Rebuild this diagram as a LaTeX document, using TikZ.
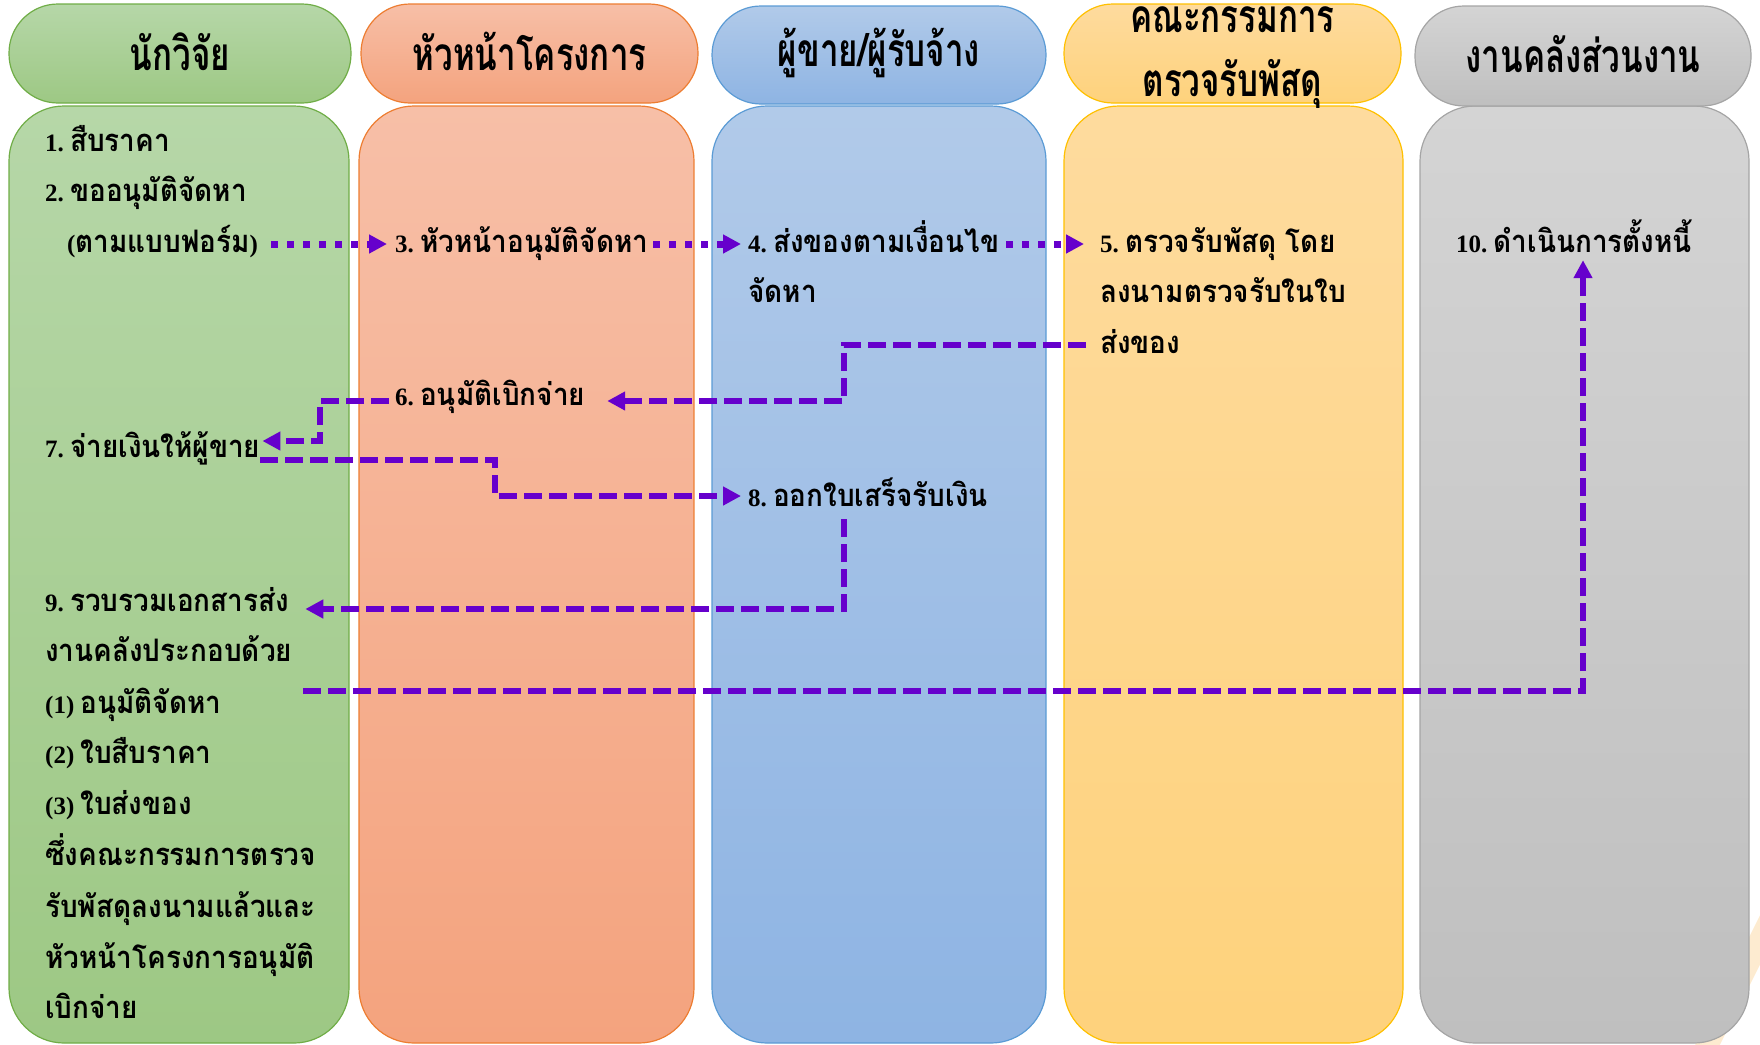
\documentclass[tikz,border=0pt]{standalone}
\usepackage{fontspec}
\newfontfamily\thaib[Script=Thai,FakeStretch=0.9]{Loma}
\newfontfamily\thaih[Script=Thai,FakeStretch=0.72]{Loma}
\newfontfamily\numf{Liberation Serif}
\usetikzlibrary{arrows.meta,calc}
\newcommand\nm[1]{{\numf\fontsize{25}{28}\selectfont #1}}
\newcommand\nms[1]{{\numf\fontsize{25}{28}\selectfont #1\ }}
\definecolor{gBd}{HTML}{70AD47}\definecolor{gT}{HTML}{B6D7A8}\definecolor{gB}{HTML}{9DC884}
\definecolor{oBd}{HTML}{ED7D31}\definecolor{oT}{HTML}{F7BFA7}\definecolor{oB}{HTML}{F4A37E}
\definecolor{bBd}{HTML}{5B9BD5}\definecolor{bT}{HTML}{B1CAE9}\definecolor{bB}{HTML}{8EB4E3}
\definecolor{yBd}{HTML}{FFC000}\definecolor{yT}{HTML}{FEDB9E}\definecolor{yB}{HTML}{FED27C}
\definecolor{kBd}{HTML}{A5A5A5}\definecolor{kT}{HTML}{D4D4D4}\definecolor{kB}{HTML}{BFBFBF}
\definecolor{arrowc}{HTML}{6600CC}
\definecolor{beigeC}{HTML}{FDEBD0}
\begin{document}
\begin{tikzpicture}[x=1pt,y=-1pt,
  lanebox/.style n args={3}{draw=#1, top color=#2, bottom color=#3, line width=1.2pt, rounded corners=55pt},
  hdrbox/.style n args={3}{draw=#1, top color=#2, bottom color=#3, line width=1.2pt, rounded corners=49pt, inner sep=0pt},
  hdrtxt/.style={inner sep=0pt, align=center, font=\thaih\bfseries\fontsize{46}{64}\selectfont},
  txt/.style={anchor=west, inner sep=0pt, text height=20pt, text depth=4pt, font=\thaib\bfseries\fontsize{31}{36}\selectfont},
  dasharrow/.style={draw=arrowc, line width=6pt, line join=miter, dash pattern=on 18pt off 7pt, -{Triangle[length=18pt,width=18pt]}},
  dotarrow/.style={draw=arrowc, line width=7pt, dash pattern=on 7pt off 9pt, -{Triangle[length=18pt,width=18pt]}}
]
\useasboundingbox (0,0) rectangle (1760,1044);
% faint background stripes, bottom right
\begin{scope}
\clip (0,0) rectangle (1760,1044);
\draw[line width=22pt, beigeC] (1790,880) -- (1700,1060);
\draw[line width=22pt, beigeC] (1815,960) -- (1745,1100);
\end{scope}
% lanes
\draw[lanebox={gBd}{gT}{gB}] (9,106) rectangle (349,1043);
\draw[lanebox={oBd}{oT}{oB}] (359,106) rectangle (694,1043);
\draw[lanebox={bBd}{bT}{bB}] (712,106) rectangle (1046,1043);
\draw[lanebox={yBd}{yT}{yB}] (1064,106) rectangle (1403,1043);
\draw[lanebox={kBd}{kT}{kB}] (1420,106) rectangle (1749,1043);
% headers
\node[hdrbox={gBd}{gT}{gB}, minimum width=342pt, minimum height=99pt] (h1) at (180,53.5) {};
\node[hdrbox={oBd}{oT}{oB}, minimum width=337pt, minimum height=99pt] (h2) at (529.5,53.5) {};
\node[hdrbox={bBd}{bT}{bB}, minimum width=334pt, minimum height=98pt] (h3) at (879,55) {};
\node[hdrbox={yBd}{yT}{yB}, minimum width=337pt, minimum height=99pt] (h4) at (1232.5,53.5) {};
\node[hdrbox={kBd}{kT}{kB}, minimum width=336pt, minimum height=100pt] (h5) at (1583,56) {};
\node[hdrtxt] (h1t) at ([yshift=2pt]h1.center) {นักวิจัย};
\node[hdrtxt] (h2t) at ([yshift=2pt]h2.center) {หัวหน้าโครงการ};
\node[hdrtxt] (h3t) at ([yshift=2pt]h3.center) {ผู้ขาย/ผู้รับจ้าง};
\node[hdrtxt] (h4t) at (1232.5,58) {คณะกรรมการ\\ตรวจรับพัสดุ};
\node[hdrtxt] (h5t) at ([yshift=2pt]h5.center) {งานคลังส่วนงาน};
% texts
\node[txt] (s1) at (45,143) {\nms{1.}สืบราคา};
\node[txt] (s2a) at (45,193) {\nms{2.}ขออนุมัติจัดหา};
\node[txt] (s2b) at (67,244) {\nm{(}ตามแบบฟอร์ม\nm{)}};
\node[txt] (s3) at (395,244) {\nms{3.}หัวหน้าอนุมัติจัดหา};
\node[txt] (s4a) at (748,244) {\nms{4.}ส่งของตามเงื่อนไข};
\node[txt] (s4b) at (748,294) {จัดหา};
\node[txt] (s5a) at (1100,244) {\nms{5.}ตรวจรับพัสดุ โดย};
\node[txt] (s5b) at (1100,294) {ลงนามตรวจรับในใบ};
\node[txt] (s5c) at (1100,345) {ส่งของ};
\node[txt] (s10) at (1456,244) {\nms{10.}ดำเนินการตั้งหนี้};
\node[txt] (s6) at (395,397) {\nms{6.}อนุมัติเบิกจ่าย};
\node[txt] (s7) at (45,449) {\nms{7.}จ่ายเงินให้ผู้ขาย};
\node[txt] (s8) at (748,498) {\nms{8.}ออกใบเสร็จรับเงิน};
\node[txt] (s9a) at (45,603) {\nms{9.}รวบรวมเอกสารส่ง};
\node[txt] (s9b) at (45,653) {งานคลังประกอบด้วย};
\node[txt] (s9c) at (45,705) {\nms{(1)}อนุมัติจัดหา};
\node[txt] (s9d) at (45,755) {\nms{(2)}ใบสืบราคา};
\node[txt] (s9e) at (45,806) {\nms{(3)}ใบส่งของ};
\node[txt] (s9f) at (45,857) {ซึ่งคณะกรรมการตรวจ};
\node[txt] (s9g) at (45,909) {รับพัสดุลงนามแล้วและ};
\node[txt] (s9h) at (45,960) {หัวหน้าโครงการอนุมัติ};
\node[txt] (s9i) at (45,1010) {เบิกจ่าย};
% bend coordinates
\coordinate (k4) at (844,401);
\coordinate (k5) at (320,441);
\coordinate (k6) at (495,496);
\coordinate (k7) at (844,609);
\coordinate (k8a) at (303,691);
\coordinate (k8b) at (1583,691);
% connectors
\draw[dotarrow] ([xshift=13pt]s2b.east) -- ([xshift=-8pt]s3.west);
\draw[dotarrow] ([xshift=5pt]s3.east) -- ([xshift=-7pt]s4a.west);
\draw[dotarrow] ([xshift=7pt]s4a.east) -- ([xshift=-16pt]s5a.west);
\draw[dasharrow] ([xshift=-14pt]s5c.west) -| (k4) -- ($(s6.east)+(22,4)$);
\draw[dasharrow] ($(s6.west)+(-6,4)$) -| (k5) -- ($(s7.east)+(2,-8)$);
\draw[dasharrow] ($(s7.east)+(0,11)$) -| (k6) -- ($(s8.west)+(-7,-2)$);
\draw[dasharrow] ($(k7 |- s8.south)+(0,9)$) -- (k7) -- ($(s9a.east)+(16,6)$);
\draw[dasharrow] (k8a) -- (k8b) -- ($(k8b |- s10.south)+(0,4)$);
\end{tikzpicture}
\end{document}
